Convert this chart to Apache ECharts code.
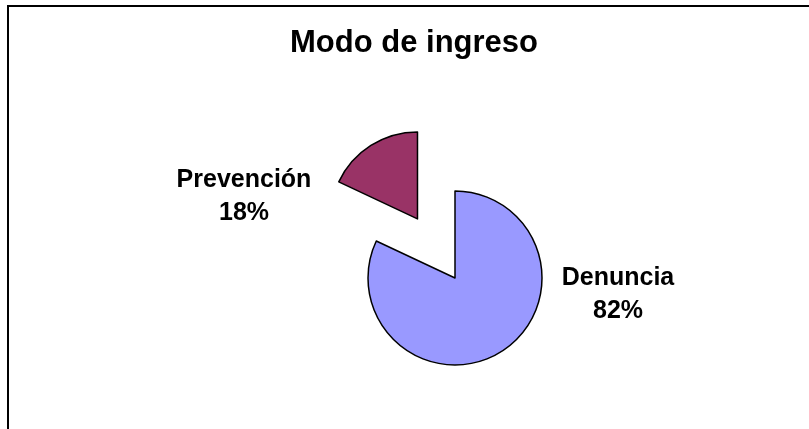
<!DOCTYPE html>
<html>
<head>
<meta charset="utf-8">
<script src="https://cdn.jsdelivr.net/npm/echarts@6/dist/echarts.min.js"></script>
<style>
  html, body { margin: 0; padding: 0; background: #fff; }
  #main { width: 809px; height: 429px; }
</style>
</head>
<body>
<div id="main"></div>
<script>
// chart data
const categories = ["Denuncia", "Prevención"];
const values = [82, 18];
const sliceColors = ["#9999FF", "#993366"];
const explodedSlice = [false, true];
// where Excel put the data labels
const labelPos = [[618, 295], [244, 197]];

const total = values.reduce(function (a, b) { return a + b; }, 0);

const myChart = echarts.init(document.getElementById("main"));

// labels are drawn as graphic text so the exploded slice doesn't drag its label along
const labelTexts = categories.map(function (name, i) {
  return {
    type: "text",
    x: labelPos[i][0],
    y: labelPos[i][1],
    silent: true,
    style: {
      text: name + "\n" + Math.round((values[i] / total) * 100) + "%",
      font: "bold 25px 'Liberation Sans', Arial, sans-serif",
      fill: "#000",
      align: "center",
      verticalAlign: "middle",
      lineHeight: 33,
    },
  };
});

const option = {
  animation: false,
  backgroundColor: "#ffffff",
  title: {
    text: "Modo de ingreso",
    left: 409,
    top: 23,
    textAlign: "center",
    textStyle: {
      fontFamily: "Liberation Sans, Arial, sans-serif",
      fontSize: 31,
      fontWeight: "bold",
      color: "#000",
    },
  },
  graphic: [
    {
      type: "rect",
      shape: { x: 8, y: 6, width: 900, height: 600 },
      style: { fill: "none", stroke: "#000", lineWidth: 2 },
      silent: true,
    },
  ].concat(labelTexts),
  series: [
    {
      type: "pie",
      center: [455, 278],
      radius: 87,
      startAngle: 90,
      clockwise: true,
      selectedMode: "single",
      selectedOffset: 70,
      emphasis: { disabled: true },
      itemStyle: { borderColor: "#000", borderWidth: 1.5 },
      label: { show: false },
      labelLine: { show: false },
      data: categories.map(function (name, i) {
        return {
          name: name,
          value: values[i],
          selected: explodedSlice[i],
          itemStyle: { color: sliceColors[i] },
          select: { itemStyle: { color: sliceColors[i], borderColor: "#000", borderWidth: 1.5 } },
        };
      }),
    },
  ],
};

myChart.setOption(option);
</script>
</body>
</html>
